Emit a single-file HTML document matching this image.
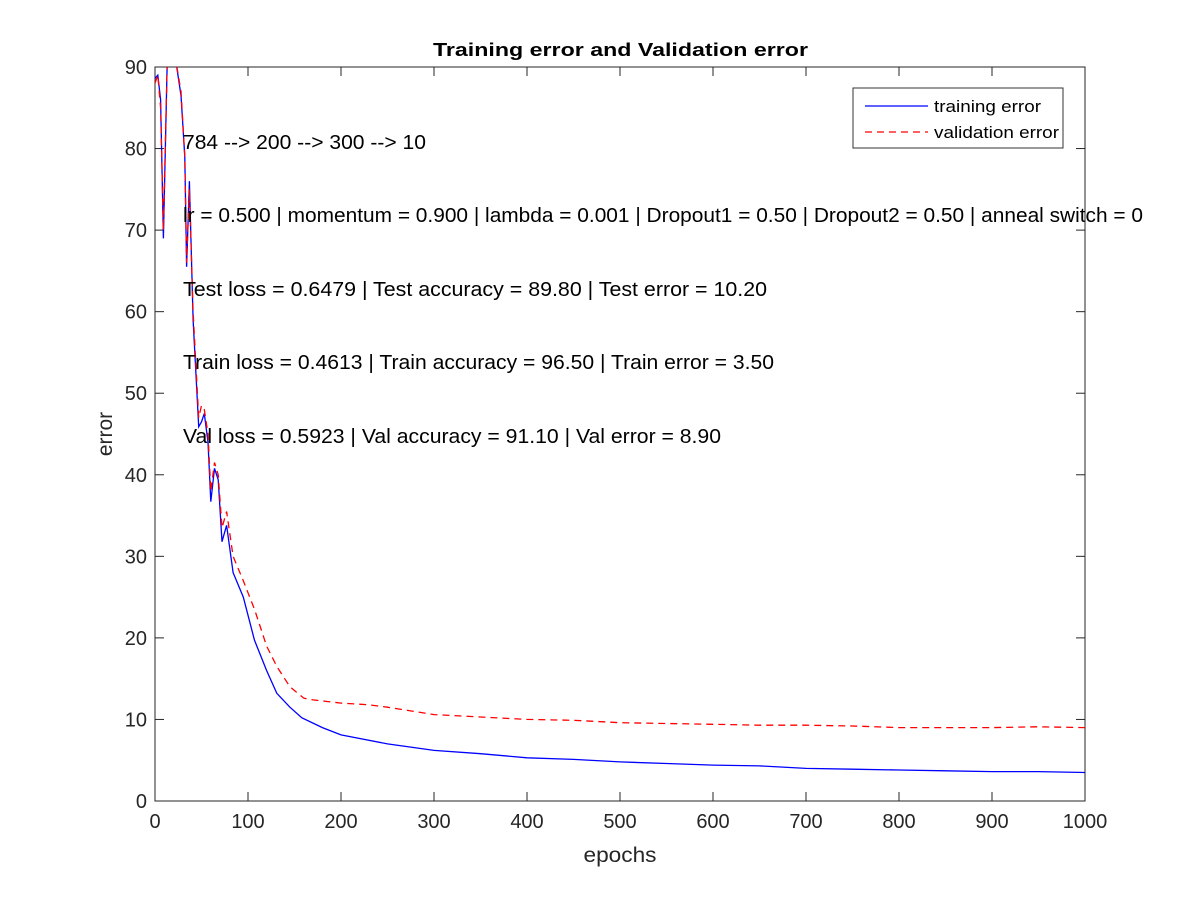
<!DOCTYPE html>
<html><head><meta charset="utf-8"><style>
body{margin:0;background:#fff;}
svg{display:block;font-family:"Liberation Sans",Arial,sans-serif;}
</style></head><body>
<svg id="chart" width="1200" height="900" viewBox="0 0 1200 900">
<rect x="0" y="0" width="1200" height="900" fill="#fff"/>
<text x="433" y="56" font-size="18" font-weight="bold" fill="#000" textLength="375" lengthAdjust="spacingAndGlyphs">Training error and Validation error</text>
<g id="axes"></g>
<g id="series" clip-path="url(#clip)"></g>
<defs><clipPath id="clip"><rect x="155" y="67" width="930" height="734"/></clipPath></defs>
<g font-size="20" fill="#000">
<text x="183" y="149" textLength="243" lengthAdjust="spacingAndGlyphs">784 --&gt; 200 --&gt; 300 --&gt; 10</text>
<text x="183" y="222" textLength="960" lengthAdjust="spacingAndGlyphs">lr = 0.500 | momentum = 0.900 | lambda = 0.001 | Dropout1 = 0.50 | Dropout2 = 0.50 | anneal switch = 0</text>
<text x="183" y="296" textLength="584" lengthAdjust="spacingAndGlyphs">Test loss = 0.6479 | Test accuracy = 89.80 | Test error = 10.20</text>
<text x="183" y="369" textLength="591" lengthAdjust="spacingAndGlyphs">Train loss = 0.4613 | Train accuracy = 96.50 | Train error = 3.50</text>
<text x="183" y="443" textLength="538" lengthAdjust="spacingAndGlyphs">Val loss = 0.5923 | Val accuracy = 91.10 | Val error = 8.90</text>
</g>
<g>
<rect x="853" y="88" width="210" height="60" fill="#fff" stroke="#333" stroke-width="1"/>
<line x1="865" y1="106" x2="928" y2="106" stroke="#0000ff" stroke-width="1.2"/>
<text x="934" y="112" font-size="17" textLength="107" lengthAdjust="spacingAndGlyphs">training error</text>
<line x1="865" y1="132" x2="928" y2="132" stroke="#ff0000" stroke-width="1.2" stroke-dasharray="7,5"/>
<text x="934" y="138" font-size="17" textLength="125" lengthAdjust="spacingAndGlyphs">validation error</text>
</g>
</svg>
<script>
const xTicks = [0,100,200,300,400,500,600,700,800,900,1000];
const yTicks = [0,10,20,30,40,50,60,70,80,90];
const trainEpochs = [0,3,6,9,13,17,22,28,32,34,37,41,47,50,53,57,60,64,68,72,77,84,95,107,120,131,145,158,180,200,250,300,350,400,450,500,550,600,650,700,750,800,850,900,950,1000];
const trainValues = [88.6,89,86,69,90,91,91,86.5,79,65.5,76,59,45.9,46.5,47.5,44,36.7,40.8,39.4,31.8,33.8,28,25,19.7,16,13.2,11.5,10.2,9,8.1,7,6.2,5.8,5.3,5.1,4.8,4.6,4.4,4.3,4.0,3.9,3.8,3.7,3.6,3.6,3.5];
const valEpochs = [0,3,6,9,13,17,22,28,32,34,37,41,47,50,53,57,60,64,68,72,77,84,95,107,120,131,145,160,170,185,200,230,250,300,350,400,450,500,550,600,650,700,750,800,850,900,950,1000];
const valValues = [88,89,85,70,90,91,91,87,79,66,75,60,47,48.5,48,45,38,41.5,40,33.5,35.5,30,27,23.5,19,16.5,14,12.6,12.4,12.2,12,11.8,11.5,10.6,10.3,10,9.9,9.6,9.5,9.4,9.3,9.3,9.2,9.0,9.0,9.0,9.1,9.0];

const NS = "http://www.w3.org/2000/svg";
const X0 = 155, X1 = 1085, Y0 = 801, Y1 = 67;
function xs(v){ return X0 + (v - 0) / 1000 * (X1 - X0); }
function ys(v){ return Y0 - (v - 0) / 90 * (Y0 - Y1); }
function mk(tag, attrs, parent){ const e = document.createElementNS(NS, tag); for (const k in attrs) e.setAttribute(k, attrs[k]); parent.appendChild(e); return e; }

const axes = document.getElementById('axes');
const frame = mk('rect', {x:X0, y:Y1, width:X1-X0, height:Y0-Y1, fill:'none', stroke:'#262626', 'stroke-width':1}, axes);


xTicks.forEach(t => {
  const x = xs(t);
  mk('line', {x1:x, y1:Y0, x2:x, y2:Y0-9, stroke:'#262626'}, axes);
  mk('line', {x1:x, y1:Y1, x2:x, y2:Y1+9, stroke:'#262626'}, axes);
  const lb = mk('text', {x:x, y:Y0+27, 'text-anchor':'middle', 'font-size':20, fill:'#262626'}, axes);
  lb.textContent = t;
  
  
});
yTicks.forEach(t => {
  const y = ys(t);
  mk('line', {x1:X0, y1:y, x2:X0+9, y2:y, stroke:'#262626'}, axes);
  mk('line', {x1:X1, y1:y, x2:X1-9, y2:y, stroke:'#262626'}, axes);
  const lb = mk('text', {x:X0-8, y:y+7, 'text-anchor':'end', 'font-size':20, fill:'#262626'}, axes);
  lb.textContent = t;
  
  
});
const xt = mk('text', {x:620, y:862, 'text-anchor':'middle', 'font-size':21, fill:'#262626', textLength:73, lengthAdjust:'spacingAndGlyphs'}, axes);
xt.textContent = 'epochs';


const yt = mk('text', {x:112, y:434, 'text-anchor':'middle', 'font-size':21, fill:'#262626', transform:'rotate(-90 112 434)'}, axes);
yt.textContent = 'error';



const series = document.getElementById('series');
function pts(ex, vals){ return ex.map((e,i) => xs(e).toFixed(1) + ',' + ys(vals[i]).toFixed(1)).join(' '); }
const tl = mk('polyline', {points:pts(trainEpochs, trainValues), fill:'none', stroke:'#0000ff', 'stroke-width':1.3}, series);


const vl = mk('polyline', {points:pts(valEpochs, valValues), fill:'none', stroke:'#ff0000', 'stroke-width':1.3, 'stroke-dasharray':'7,5'}, series);


</script>
</body></html>
